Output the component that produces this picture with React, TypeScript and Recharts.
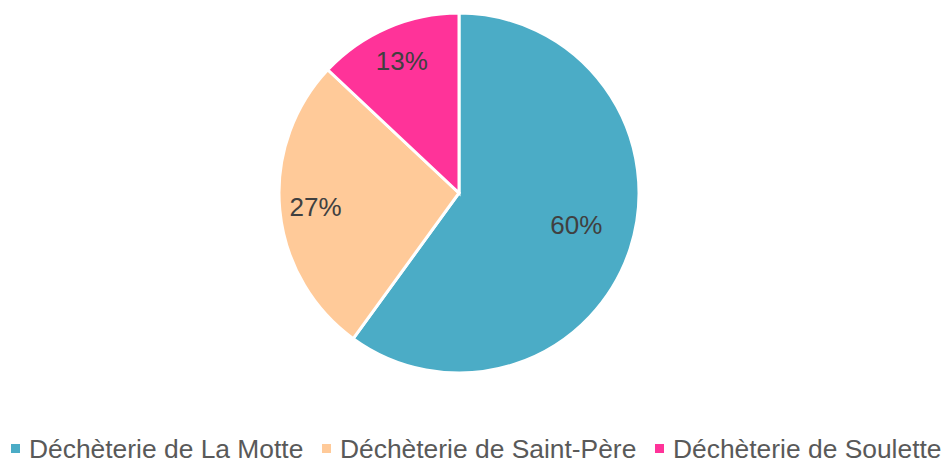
import React from 'react';
import { PieChart, Pie, Cell } from 'recharts';

const categories = ['Déchèterie de La Motte', 'Déchèterie de Saint-Père', 'Déchèterie de Soulette'];
const values = [60, 27, 13];
const colors = ['#4BACC6', '#FFCA99', '#FF3399'];
const labelRadiusFraction = [0.685, 0.8, 0.8];

const data = categories.map((name, i) => ({ name, value: values[i] }));

const FONT = '"Liberation Sans", Arial, sans-serif';

const renderLabel = (props: any) => {
  const { cx, cy, midAngle, outerRadius, index, percent } = props;
  const RAD = Math.PI / 180;
  const r = outerRadius * labelRadiusFraction[index];
  const x = cx + r * Math.cos(-midAngle * RAD);
  const y = cy + r * Math.sin(-midAngle * RAD) - (index === 0 ? 6 : 0);
  return (
    <text x={x} y={y} fill="#404040" fontSize={26} fontFamily={FONT} textAnchor="middle" dominantBaseline="central">
      {`${Math.round(percent * 100)}%`}
    </text>
  );
};

const legendX = [11, 322, 655];

export default function App() {
  return (
    <div style={{ position: 'absolute', left: 0, top: 0, width: 944, height: 459, background: '#fff' }}>
      <PieChart width={944} height={459} margin={{ top: 0, right: 0, bottom: 0, left: 0 }}>
        <Pie
          data={data}
          dataKey="value"
          nameKey="name"
          cx={459}
          cy={193}
          outerRadius={180}
          startAngle={90}
          endAngle={-270}
          stroke="#ffffff"
          strokeWidth={3}
          label={renderLabel}
          labelLine={false}
          isAnimationActive={false}
        >
          {data.map((d, i) => (
            <Cell key={d.name} fill={colors[i]} />
          ))}
        </Pie>
        {categories.map((c, i) => (
          <g key={c}>
            <rect x={legendX[i]} y={444} width={9} height={9} fill={colors[i]} />
            <text x={legendX[i] + 18} y={449} fill="#595959" fontSize={26.4} fontFamily={FONT} dominantBaseline="central">
              {c}
            </text>
          </g>
        ))}
      </PieChart>
    </div>
  );
}
